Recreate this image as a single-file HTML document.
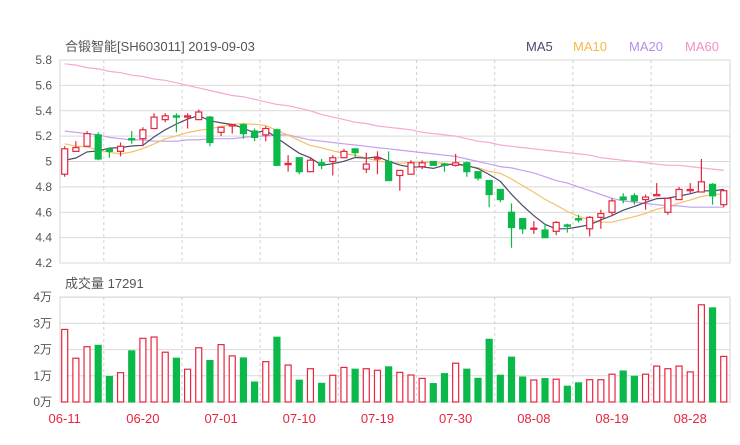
<!DOCTYPE html>
<html><head><meta charset="utf-8"><style>
body{margin:0;background:#fff;}
svg text{font-family:"Liberation Sans","Noto Sans CJK SC",sans-serif;}
</style></head><body>
<svg id="c" width="740" height="440" xmlns="http://www.w3.org/2000/svg">
<text x="65" y="51" font-size="13" fill="#555">合锻智能[SH603011] 2019-09-03</text>
<g font-size="13">
<text x="526" y="51" fill="#4a4a6a">MA5</text>
<text x="573" y="51" fill="#f5b94a">MA10</text>
<text x="629" y="51" fill="#b58ee8">MA20</text>
<text x="685" y="51" fill="#f48fc5">MA60</text>
</g>
<text x="65" y="288" font-size="13" fill="#555">成交量 17291</text>
<g id="grid"></g><g id="lines"></g><g id="marks"></g><g id="labels"></g>
</svg>
<script>
const dates=['06-11','06-20','07-01','07-10','07-19','07-30','08-08','08-19','08-28'];
const dateIdx=[0,7,14,21,28,35,42,49,56];
const priceTicks=[5.8,5.6,5.4,5.2,5,4.8,4.6,4.4,4.2];
const volTicks=[4,3,2,1,0];
const opens=[4.90,5.08,5.12,5.21,5.10,5.08,5.18,5.18,5.26,5.33,5.36,5.35,5.33,5.35,5.23,5.28,5.29,5.24,5.21,5.25,4.98,5.03,4.92,4.99,5.00,5.03,5.10,4.94,5.02,5.00,4.89,4.90,4.96,5.00,4.98,4.97,4.99,4.92,4.85,4.78,4.60,4.55,4.47,4.46,4.45,4.50,4.55,4.47,4.56,4.60,4.72,4.73,4.70,4.73,4.60,4.70,4.77,4.76,4.82,4.66];
const closes=[5.10,5.11,5.22,5.02,5.08,5.12,5.17,5.25,5.35,5.36,5.35,5.36,5.39,5.15,5.27,5.29,5.22,5.19,5.26,4.97,4.985,4.92,5.01,4.97,5.03,5.08,5.07,4.98,5.03,4.85,4.93,4.99,4.99,4.97,4.97,4.99,4.92,4.87,4.74,4.70,4.48,4.47,4.475,4.40,4.52,4.49,4.54,4.56,4.59,4.69,4.70,4.69,4.72,4.74,4.71,4.78,4.78,4.84,4.73,4.77];
const highs=[5.12,5.16,5.24,5.23,5.11,5.15,5.24,5.27,5.38,5.38,5.38,5.38,5.41,5.36,5.27,5.29,5.30,5.26,5.28,5.26,5.05,5.03,5.03,5.02,5.05,5.10,5.10,5.07,5.08,5.08,4.93,5.01,5.01,5.00,4.99,5.06,5.00,4.92,4.85,4.78,4.67,4.55,4.53,4.51,4.53,4.51,4.58,4.57,4.62,4.71,4.75,4.75,4.74,4.83,4.71,4.80,4.83,5.02,4.83,4.78];
const lows=[4.88,5.08,5.12,5.01,5.03,5.04,5.14,5.12,5.26,5.31,5.23,5.26,5.33,5.12,5.20,5.22,5.18,5.16,5.16,4.97,4.92,4.90,4.92,4.94,4.89,5.03,5.03,4.91,4.90,4.85,4.77,4.90,4.94,4.97,4.92,4.96,4.88,4.85,4.64,4.68,4.32,4.43,4.43,4.40,4.42,4.44,4.52,4.41,4.47,4.57,4.67,4.66,4.62,4.73,4.58,4.70,4.75,4.76,4.66,4.64];
const priorCloses=[5.30,5.28,5.27,5.25,5.25,5.02,4.98,4.98,4.97];
const ma20=[5.24,5.23,5.22,5.21,5.19,5.18,5.17,5.17,5.16,5.16,5.16,5.17,5.17,5.18,5.18,5.18,5.19,5.20,5.20,5.21,5.21,5.19,5.17,5.16,5.15,5.14,5.13,5.12,5.11,5.10,5.09,5.08,5.07,5.06,5.05,5.04,5.02,5.00,4.98,4.96,4.95,4.93,4.91,4.88,4.85,4.83,4.80,4.77,4.74,4.71,4.69,4.68,4.67,4.66,4.65,4.65,4.64,4.64,4.64,4.64];
const ma60=[5.77,5.76,5.74,5.73,5.71,5.70,5.68,5.67,5.65,5.64,5.62,5.60,5.58,5.56,5.54,5.52,5.51,5.49,5.47,5.45,5.44,5.42,5.40,5.37,5.35,5.33,5.31,5.30,5.28,5.27,5.26,5.25,5.23,5.22,5.21,5.20,5.18,5.16,5.15,5.13,5.12,5.11,5.10,5.09,5.08,5.07,5.06,5.05,5.03,5.02,5.01,5.00,4.99,4.98,4.97,4.97,4.96,4.95,4.94,4.93];
const volumes=[2.77,1.67,2.11,2.16,0.97,1.12,1.95,2.43,2.48,1.90,1.67,1.25,2.07,1.58,2.19,1.76,1.68,0.76,1.54,2.47,1.41,0.83,1.27,0.71,1.02,1.32,1.25,1.27,1.21,1.34,1.13,1.03,0.90,0.70,1.08,1.48,1.25,0.90,2.39,1.02,1.71,0.95,0.84,0.89,0.87,0.60,0.73,0.85,0.85,1.06,1.18,0.98,1.06,1.37,1.27,1.37,1.15,3.71,3.59,1.74];

const NS='http://www.w3.org/2000/svg';
const yp=p=>60+(5.8-p)*126.9;
const L=60,R=730,PT=yp(5.8),PB=263,VT=297,VB=402;
const RED='#e8253f',GREEN='#0bb94a';
const xs=i=>64.7+11.17*i;
const yv=v=>VB-v*26.2;
function mk(tag,attrs,parent){const e=document.createElementNS(NS,tag);for(const k in attrs)e.setAttribute(k,attrs[k]);document.getElementById(parent).appendChild(e);return e;}
let e=mk('rect',{x:L,y:PT,width:R-L,height:PB-PT,fill:'none',stroke:'#d6d6d6'},'grid');


e=mk('rect',{x:L,y:VT,width:R-L,height:VB-VT,fill:'none',stroke:'#d6d6d6'},'grid');


priceTicks.forEach(t=>{
  const y=yp(t);
  let g=mk('line',{x1:L,x2:R,y1:y,y2:y,stroke:'#d9d9d9'},'grid');
  
  
  let tx=mk('text',{x:52,y:y+4,'text-anchor':'end','font-size':12,fill:'#555'},'labels');
  tx.textContent=String(t);
  
  
});
volTicks.forEach(t=>{
  const y=yv(t);
  let g=mk('line',{x1:L,x2:R,y1:y,y2:y,stroke:'#d9d9d9'},'grid');
  
  
  let tx=mk('text',{x:52,y:y+4,'text-anchor':'end','font-size':12,fill:'#555'},'labels');
  tx.textContent=t+'万';
  
  
});
for(let k=0;k<8;k++){
  const x=xs(3.5+7*k);
  let g=mk('line',{x1:x,x2:x,y1:PT,y2:PB,stroke:'#d0d0d0','stroke-dasharray':'3,3'},'grid');
  
  
  g=mk('line',{x1:x,x2:x,y1:VT,y2:VB,stroke:'#d0d0d0','stroke-dasharray':'3,3'},'grid');
  
  
}
dates.forEach((d,j)=>{
  let tx=mk('text',{x:xs(dateIdx[j]),y:423,'text-anchor':'middle','font-size':13,fill:RED},'labels');
  tx.textContent=d;
  
  
});
const all=priorCloses.concat(closes);
function ma(n){return closes.map((c,i)=>{const j=i+priorCloses.length;let s=0;for(let k=j-n+1;k<=j;k++)s+=all[k];return s/n;});}
function line(vals,color,name){
  const d=vals.map((v,i)=>(i?'L':'M')+xs(i).toFixed(1)+','+yp(v).toFixed(1)).join('');
  let p=mk('path',{d:d,fill:'none',stroke:color,'stroke-width':1.2},'lines');
  
  
}
line(ma60,'#f7a8d4','ma60-line');
line(ma20,'#c4a0ee','ma20-line');
line(ma(10),'#f5c066','ma10-line');
line(ma(5),'#4a4a6a','ma5-line');
closes.forEach((c,i)=>{
  const o=opens[i],up=c>=o,col=up?RED:GREEN,x=xs(i);
  let w=mk('line',{x1:x,x2:x,y1:yp(highs[i]),y2:yp(lows[i]),stroke:col,'stroke-width':1.2},'marks');
  
  
  const top=yp(Math.max(o,c)),h=Math.max(1.2,Math.abs(yp(o)-yp(c)));
  let b=mk('rect',{x:x-3,y:top,width:6,height:h,fill:up?'#fff':col,stroke:col,'stroke-width':1.2},'marks');
  
  
  const vc=up?RED:GREEN,vt=yv(volumes[i]);
  let v=mk('rect',{x:x-3,y:vt,width:6,height:VB-vt,fill:up?'#fff':vc,stroke:vc,'stroke-width':1.2},'marks');
  
  
});
</script>
</body></html>
